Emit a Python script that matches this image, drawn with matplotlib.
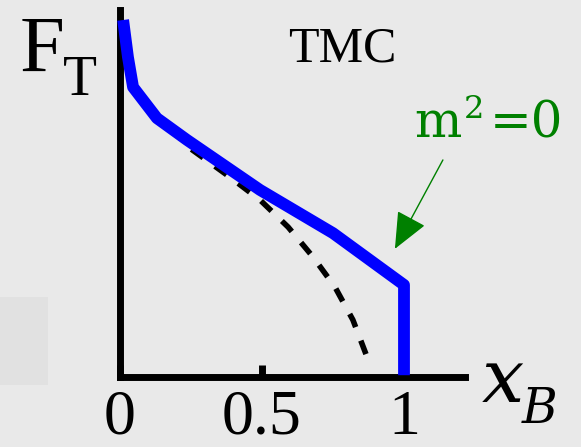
import matplotlib
matplotlib.use("Agg")
import matplotlib.pyplot as plt
from matplotlib.patches import Rectangle

# Data (x_B fraction vs F_T, arbitrary units)
blue_x = [0.011, 0.028, 0.046, 0.130, 0.236, 0.493, 0.750, 1.0, 1.0]
blue_y = [1.000, 0.896, 0.812, 0.725, 0.664, 0.524, 0.403, 0.258, 0.005]
dash_x = [0.18, 0.246, 0.387, 0.493, 0.592, 0.680, 0.757, 0.820, 0.870, 0.887]
dash_y = [0.695, 0.641, 0.560, 0.496, 0.420, 0.336, 0.252, 0.160, 0.056, 0.031]
xticks = [0, 0.5, 1]
xticklabels = ["0", "0.5", "1"]
arrow_tail = (1.137, 0.608)
arrow_tip = (0.968, 0.359)

W, H = 581, 447
fig = plt.figure(figsize=(W / 100, H / 100), dpi=100)
fig.patch.set_facecolor("#e9e9e9")

# flat lighter patch at left
fig.patches.append(Rectangle((0, 1 - 385 / H), 48 / W, 88 / H, transform=fig.transFigure,
                             facecolor="#e1e1e1", edgecolor="none", zorder=0))

left_px, right_px, top_px, bot_px = 120, 465, 10, 377
ax = fig.add_axes([left_px / W, 1 - bot_px / H, (right_px - left_px) / W, (bot_px - top_px) / H])
ax.set_facecolor("none")
ax.set_xlim(0, (right_px - left_px) / 284)
ax.set_ylim(0, (bot_px - top_px) / 357)

for s in ["top", "right"]:
    ax.spines[s].set_visible(False)
for s in ["left", "bottom"]:
    ax.spines[s].set_linewidth(5)
    ax.spines[s].set_color("black")
    ax.spines[s].set_capstyle("projecting")

ax.plot(dash_x, dash_y, color="black", lw=4, linestyle=(0, (2.6, 2.6)),
        dash_capstyle="butt", zorder=2, clip_on=False)
ax.plot(blue_x, blue_y, color="#0000ff", lw=8.5, solid_joinstyle="round",
        solid_capstyle="butt", zorder=3, clip_on=False)

ax.set_yticks([])
ax.set_xticks(xticks)
ax.set_xticklabels(xticklabels, fontfamily="Liberation Serif", fontsize=46)
ax.tick_params(axis="x", direction="in", length=9, width=5, pad=9)

ax.annotate("", xy=arrow_tip, xytext=arrow_tail,
            arrowprops=dict(arrowstyle="-|>,head_length=23,head_width=10",
                            mutation_scale=1, color="#008000", lw=1,
                            shrinkA=0, shrinkB=0))

def ftext(px, py, s, **kw):
    fig.text(px / W, 1 - py / H, s, ha="left", va="baseline", **kw)

green = "#008000"
ftext(20, 72, "F", fontfamily="Liberation Serif", fontsize=58)
ftext(63, 95, "T", fontfamily="Liberation Serif", fontsize=40)
ftext(288, 62, "TMC", fontfamily="Liberation Serif", fontsize=36)
ftext(414, 137, "m", fontfamily="DejaVu Serif", fontsize=36, color=green)
ftext(464, 118, "2", fontfamily="DejaVu Serif", fontsize=23, color=green)
ftext(490, 137, "=0", fontfamily="DejaVu Serif", fontsize=36, color=green)
ftext(482, 402, "x", fontfamily="DejaVu Serif", fontstyle="italic", fontsize=54)
ftext(522, 423, "B", fontfamily="DejaVu Serif", fontstyle="italic", fontsize=35)

fig.savefig("out.png", dpi=100)
